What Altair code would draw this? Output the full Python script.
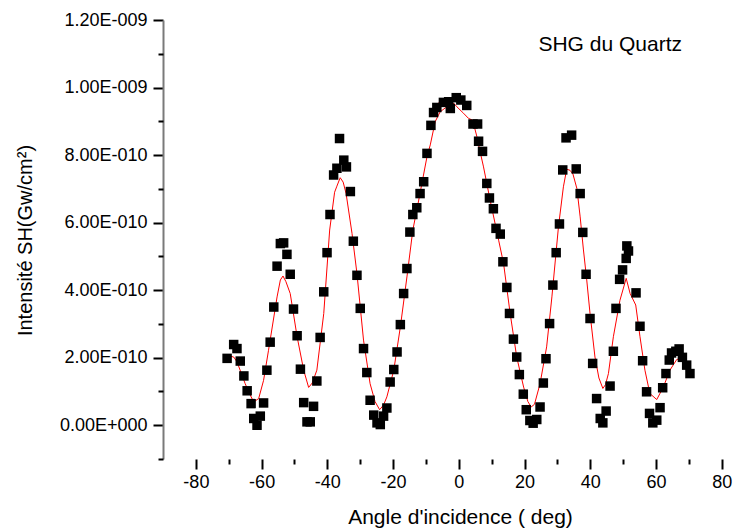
import altair as alt
import pandas as pd

# Measured points (angle in deg, intensity in units of 1e-10 Gw/cm^2)
pt_x = [-70.5, -68.5, -67.5, -66.5, -65.4, -64.4, -63.2, -62.4, -61.4, -60.4, -59.4, -58.4, -57.4,
        -56.3, -55.3, -54.3, -53.3, -52.3, -51.3, -50.3, -49.2, -48.2, -47.2, -46.2, -45.2, -44.2,
        -43.2, -42.2, -41.1, -40.1, -39.2, -38.1, -37.1, -36.3, -35.0, -34.2, -33.0, -32.1, -31.0,
        -30.0, -29.0, -28.0, -27.0, -25.9, -24.9, -23.9, -22.9, -21.9, -20.9, -19.8, -18.8, -17.8,
        -16.8, -15.8, -14.9, -14.0, -12.8, -11.8, -10.7, -9.7, -8.5, -7.7, -6.7, -4.7, -3.1, -2.6,
        -0.8, 0.6, 2.4, 4.3, 5.7, 6.0, 7.2, 8.5, 9.3, 10.5, 11.3, 12.6, 13.4, 14.6, 15.4, 16.6,
        17.6, 18.4, 19.6, 20.5, 21.6, 22.6, 23.7, 24.7, 25.7, 26.5, 27.6, 28.6, 29.6, 30.6, 31.6,
        32.6, 34.3, 35.7, 36.9, 37.7, 38.7, 39.9, 40.7, 41.9, 43.0, 43.8, 44.8, 46.0, 47.0, 47.8,
        48.9, 49.8, 50.9, 51.6, 51.1, 53.9, 55.1, 55.9, 57.1, 58.0, 59.0, 60.2, 61.2, 62.0, 63.0,
        64.0, 64.7, 66.0, 67.0, 68.0, 69.3, 70.3]
pt_y = [1.98, 2.39, 2.27, 1.90, 1.46, 1.02, 0.64, 0.20, 0.00, 0.27, 0.66, 1.63, 2.46,
        3.50, 4.71, 5.38, 5.40, 5.06, 4.47, 3.44, 2.65, 1.66, 0.67, 0.10, 0.10, 0.56,
        1.31, 2.60, 3.95, 5.11, 6.24, 7.41, 7.61, 8.49, 7.85, 7.65, 6.92, 5.45, 4.44,
        3.46, 2.27, 1.56, 0.74, 0.30, 0.07, 0.02, 0.27, 0.51, 1.28, 1.65, 2.17, 2.98,
        3.90, 4.64, 5.72, 6.24, 6.44, 6.86, 7.21, 8.05, 8.88, 9.26, 9.41, 9.56, 9.58, 9.38,
        9.70, 9.63, 9.47, 8.92, 8.92, 8.41, 8.11, 7.16, 6.73, 6.41, 5.83, 5.66, 4.84, 4.08, 3.31, 2.55,
        2.02, 1.50, 0.92, 0.46, 0.14, 0.06, 0.17, 0.54, 1.25, 1.97, 3.01, 4.15, 5.11, 5.96, 7.56,
        8.51, 8.59, 7.59, 6.86, 5.71, 4.47, 3.16, 1.83, 0.79, 0.20, 0.07, 0.42, 1.16, 2.19, 3.46,
        4.32, 4.60, 4.94, 5.16, 5.31, 3.92, 2.93, 1.91, 0.99, 0.35, 0.07, 0.15, 0.52, 1.11, 1.53,
        1.93, 2.14, 2.19, 2.26, 2.01, 1.78, 1.53]

# Fitted curve (drawn in this order)
fit_x = [-70.5, -68.5, -67.5, -65.0, -63.5, -62.4, -60.9, -59.4, -57.9, -55.3, -54.3, -53.5, -52.6,
         -51.3, -49.2, -47.2, -45.7, -44.6, -43.2, -41.1, -39.3, -37.8, -37.1, -36.1, -35.2, -34.3,
         -32.5, -31.0, -29.0, -27.0, -25.5, -24.1, -22.9, -21.9, -19.8, -17.8, -15.8, -14.0, -12.2,
         -9.7, -8.7, -7.2, -5.7, -4.1, -2.6, -1.6, -6.2, -1.4, -0.6, 1.4, 2.9, 4.0, 5.5, 4.7, 5.5,
         6.0, 7.5, 9.5, 12.1, 13.6, 15.6, 17.6, 19.7, 21.0, 22.0, 23.0, 24.7, 26.7, 28.3, 30.3,
         31.8, 32.8, 33.8, 34.7, 35.9, 36.9, 37.9, 38.9, 39.9, 41.4, 42.6, 43.8, 44.6, 45.5, 47.0,
         49.0, 50.9, 52.1, 53.8, 55.1, 56.6, 58.1, 60.2, 62.2, 64.2, 66.3, 67.3, 68.3, 70.3]
fit_y = [2.07, 2.02, 1.88, 1.23, 0.90, 0.69, 0.79, 1.33, 2.22, 3.80, 4.30, 4.42, 4.25,
         3.90, 2.62, 1.63, 1.12, 1.25, 1.63, 3.31, 5.78, 6.90, 7.08, 7.33, 7.20, 6.86,
         5.68, 4.49, 2.52, 1.23, 0.70, 0.46, 0.60, 0.84, 1.63, 2.91, 4.39, 5.78, 6.67,
         7.95, 8.30, 8.99, 9.28, 9.40, 9.46, 9.52, 9.54, 9.52, 9.43, 9.24, 9.09, 9.04, 8.99, 8.84, 8.54,
         8.30, 7.65, 6.67, 5.48, 4.79, 3.31, 2.02, 1.13, 0.70, 0.54, 0.62, 1.23, 2.32, 3.80, 5.88,
         7.06, 7.58, 7.55, 7.44, 7.01, 6.17, 5.19, 4.30, 3.31, 2.02, 1.40, 1.09, 1.20, 1.53, 2.62,
         3.70, 4.35, 3.90, 3.56, 2.62, 1.63, 0.94, 0.76, 1.13, 1.63, 1.95, 1.96, 1.88, 1.73]

x_major = [-80, -60, -40, -20, 0, 20, 40, 60, 80]
x_minor = [-70, -50, -30, -10, 10, 30, 50, 70]
y_major = [0, 2e-10, 4e-10, 6e-10, 8e-10, 1.0e-9, 1.2e-9]
y_minor = [-1e-10, 1e-10, 3e-10, 5e-10, 7e-10, 9e-10, 1.1e-9]

FONT = "Liberation Sans"
pts = pd.DataFrame({"x": pt_x, "y": [v * 1e-10 for v in pt_y]})
fit = pd.DataFrame({"x": fit_x, "y": [v * 1e-10 for v in fit_y], "i": list(range(len(fit_x)))})
note = pd.DataFrame({"x": [24.2], "y": [11.26e-10], "t": ["SHG du Quartz"]})

xs = alt.Scale(domain=[-90, 84], nice=False, zero=False)
ys = alt.Scale(domain=[-1e-10, 1.2e-9], nice=False, zero=False)

y_label_expr = ("round(datum.value*1e10) == 0 ? '0.00E+000' : "
                "(round(datum.value*1e10) < 10 ? format(round(datum.value*1e10), '.2f') + 'E-010' : "
                "format(round(datum.value*1e10)/10, '.2f') + 'E-009')")
x_label_expr = "datum.value < 0 ? '-' + abs(datum.value) : '' + datum.value"

x_axis = alt.Axis(values=x_major, orient="bottom", domain=False, grid=False, tickSize=10, tickWidth=2,
                  tickColor="black", labelFont=FONT, labelFontSize=18, labelColor="black",
                  labelPadding=4, labelExpr=x_label_expr,
                  title="Angle d'incidence ( deg)", titleFont=FONT, titleFontSize=21,
                  titleFontWeight="normal", titleColor="black", titleX=297, titleY=58,
                  titleAlign="center", titleBaseline="middle")
y_axis = alt.Axis(values=y_major, orient="left", domain=True, domainColor="#7a7a7a", domainWidth=2,
                  grid=False, tickSize=10, tickWidth=2, tickColor="black", labelFont=FONT,
                  labelFontSize=18, labelColor="black", labelPadding=6, labelExpr=y_label_expr,
                  title="Intensité SH(Gw/cm²)", titleFont=FONT, titleFontSize=20,
                  titleFontWeight="normal", titleColor="black", titleX=-138, titleY=220,
                  titleAlign="center", titleBaseline="middle", titleAngle=270)
x_minor_axis = alt.Axis(values=x_minor, orient="bottom", domain=False, grid=False, labels=False,
                        tickSize=5, tickWidth=2, tickColor="black", title=None)
y_minor_axis = alt.Axis(values=y_minor, orient="left", domain=False, grid=False, labels=False,
                        tickSize=5, tickWidth=2, tickColor="black", title=None)

curve = alt.Chart(fit).mark_line(color="#ff0000", strokeWidth=1).encode(
    x=alt.X("x:Q", scale=xs, axis=None),
    y=alt.Y("y:Q", scale=ys, axis=None),
    order="i:Q",
)
points = alt.Chart(pts).mark_square(size=90, color="black", opacity=1).encode(
    x=alt.X("x:Q", scale=xs, axis=x_axis),
    y=alt.Y("y:Q", scale=ys, axis=y_axis),
)
text = alt.Chart(note).mark_text(align="left", baseline="middle", font=FONT, fontSize=21,
                                 color="black").encode(
    x=alt.X("x:Q", scale=xs, axis=x_minor_axis),
    y=alt.Y("y:Q", scale=ys, axis=y_minor_axis),
    text="t:N",
)

chart = alt.layer(curve, points, text).resolve_axis(x="independent", y="independent").properties(
    width=572, height=439,
    autosize=alt.AutoSizeParams(type="none"),
    padding={"left": 155, "top": 12, "right": 10, "bottom": 72},
).configure_view(stroke=None)

chart.save("out.html", embed_options={"renderer": "svg", "actions": False})
